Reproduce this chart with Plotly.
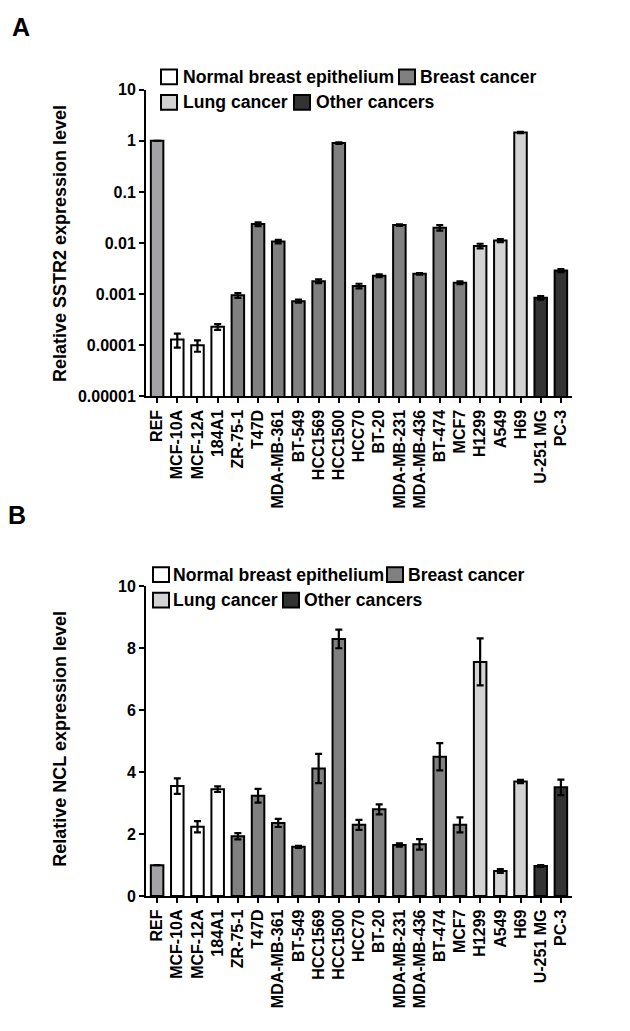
import plotly.graph_objects as go

W, H = 630, 1031

cell_lines = ["REF", "MCF-10A", "MCF-12A", "184A1", "ZR-75-1", "T47D", "MDA-MB-361",
              "BT-549", "HCC1569", "HCC1500", "HCC70", "BT-20", "MDA-MB-231",
              "MDA-MB-436", "BT-474", "MCF7", "H1299", "A549", "H69", "U-251 MG", "PC-3"]

groups = ["REF", "Normal breast epithelium", "Normal breast epithelium", "Normal breast epithelium",
          "Breast cancer", "Breast cancer", "Breast cancer", "Breast cancer", "Breast cancer",
          "Breast cancer", "Breast cancer", "Breast cancer", "Breast cancer", "Breast cancer",
          "Breast cancer", "Breast cancer", "Lung cancer", "Lung cancer", "Lung cancer",
          "Other cancers", "Other cancers"]

sstr2_mean = [1.0, 0.00013, 0.0001, 0.00023, 0.00095, 0.0235, 0.0107, 0.00073, 0.0018,
              0.9, 0.00145, 0.0023, 0.0225, 0.0025, 0.020, 0.00168, 0.0088, 0.0112,
              1.45, 0.00085, 0.0029]
sstr2_err = [0.0, 0.00004, 0.000025, 0.00003, 0.0001, 0.002, 0.0008, 0.00005, 0.00015,
             0.03, 0.00015, 0.00015, 0.0008, 0.0001, 0.0025, 0.0001, 0.0009, 0.0008,
             0.04, 0.00007, 0.0002]

ncl_mean = [1.0, 3.55, 2.24, 3.45, 1.93, 3.24, 2.36, 1.59, 4.12, 8.3, 2.3, 2.8, 1.65,
            1.67, 4.5, 2.3, 7.56, 0.81, 3.7, 0.97, 3.51]
ncl_err = [0.0, 0.25, 0.18, 0.09, 0.1, 0.22, 0.13, 0.03, 0.47, 0.3, 0.16, 0.16, 0.05,
           0.17, 0.44, 0.24, 0.76, 0.06, 0.05, 0.03, 0.25]

group_colors = {"REF": "#a3a3a6", "Normal breast epithelium": "#ffffff",
                "Breast cancer": "#808080", "Lung cancer": "#d3d3d3",
                "Other cancers": "#333333"}
legend_groups = ["Normal breast epithelium", "Breast cancer", "Lung cancer", "Other cancers"]

sstr2_ticks = [10, 1, 0.1, 0.01, 0.001, 0.0001, 0.00001]
sstr2_ticktext = ["10", "1", "0.1", "0.01", "0.001", "0.0001", "0.00001"]
ncl_ticks = [0, 2, 4, 6, 8, 10]

FONT = "Liberation Sans, Arial, sans-serif"

def px_x(p):
    return p / W

def px_y(p):
    return 1 - p / H

fig = go.Figure()

for yaxis_name, xaxis_name, means, errs in [("y", "x", sstr2_mean, sstr2_err),
                                            ("y2", "x2", ncl_mean, ncl_err)]:
    for g in ["REF"] + legend_groups:
        idx = [i for i, gg in enumerate(groups) if gg == g]
        fig.add_trace(go.Bar(
            x=[cell_lines[i] for i in idx],
            y=[means[i] for i in idx],
            error_y=dict(type="data", array=[errs[i] for i in idx], visible=True,
                         color="black", thickness=2.2, width=3.5),
            marker=dict(color=group_colors[g], line=dict(color="black", width=2)),
            width=0.62,
            name=g, showlegend=False,
            xaxis=xaxis_name, yaxis=yaxis_name,
        ))

xdom = [px_x(146), px_x(572)]
axis_common = dict(showline=True, linecolor="black", linewidth=2, ticks="outside",
                   ticklen=5, tickwidth=2, tickcolor="black", showgrid=False,
                   zeroline=False, mirror=False)

tickfont = dict(family=FONT, size=16, color="black", weight="bold")

fig.update_layout(
    width=W, height=H,
    margin=dict(l=0, r=0, t=0, b=0),
    paper_bgcolor="white", plot_bgcolor="white",
    barmode="overlay",
    showlegend=False,
    xaxis=dict(domain=xdom, anchor="y", type="category", categoryorder="array",
               categoryarray=cell_lines, range=[-0.55, 20.55], tickangle=-90,
               tickfont=tickfont, **axis_common),
    yaxis=dict(domain=[px_y(395), px_y(83)], anchor="x", type="log", range=[-5, 1],
               tickvals=sstr2_ticks, ticktext=sstr2_ticktext, tickfont=tickfont,
               **axis_common),
    xaxis2=dict(domain=xdom, anchor="y2", type="category", categoryorder="array",
                categoryarray=cell_lines, range=[-0.55, 20.55], tickangle=-90,
                tickfont=tickfont, **axis_common),
    yaxis2=dict(domain=[px_y(903), px_y(588)], anchor="x2", range=[0, 10],
                tickvals=ncl_ticks, tickfont=tickfont, **axis_common),
)

annotations = []
shapes = []

letter_font = dict(family=FONT, size=25, color="black", weight="bold")
title_font = dict(family=FONT, size=18, color="black", weight="bold")
legend_font = dict(family=FONT, size=17.6, color="black", weight="bold")

# Panel letters and axis titles
annotations.append(dict(text="A", x=px_x(21), y=px_y(19), xref="paper", yref="paper",
                        xanchor="center", yanchor="middle", showarrow=False, font=letter_font))
annotations.append(dict(text="B", x=px_x(17), y=px_y(516), xref="paper", yref="paper",
                        xanchor="center", yanchor="middle", showarrow=False, font=letter_font))
annotations.append(dict(text="Relative SSTR2 expression level", x=px_x(60), y=px_y(240),
                        xref="paper", yref="paper", textangle=-90, showarrow=False,
                        xanchor="center", yanchor="middle", font=title_font))
annotations.append(dict(text="Relative NCL expression level", x=px_x(60), y=px_y(743),
                        xref="paper", yref="paper", textangle=-90, showarrow=False,
                        xanchor="center", yanchor="middle", font=title_font))

# Legends (box left x, row center y, text x)
legend_layouts = [
    [(161, 70, 181), (399, 70, 418), (161, 96, 181), (294, 96, 314)],
    [(153, 576, 171), (387, 576, 406), (153, 602, 171), (283, 602, 302)],
]
for layout in legend_layouts:
    for g, (bx, cy, tx) in zip(legend_groups, layout):
        shapes.append(dict(type="rect", xref="paper", yref="paper",
                           x0=px_x(bx), x1=px_x(bx + 16), y0=px_y(cy + 7.5), y1=px_y(cy - 7.5),
                           fillcolor=group_colors[g], line=dict(color="black", width=2)))
        annotations.append(dict(text=g, x=px_x(tx), y=px_y(cy), xref="paper", yref="paper",
                                xanchor="left", yanchor="middle", showarrow=False,
                                font=legend_font))

fig.update_layout(annotations=annotations, shapes=shapes)

fig.write_html("out.html",
               config={"displayModeBar": False},
               post_script="document.body.style.margin='0';document.body.style.overflow='hidden';")
